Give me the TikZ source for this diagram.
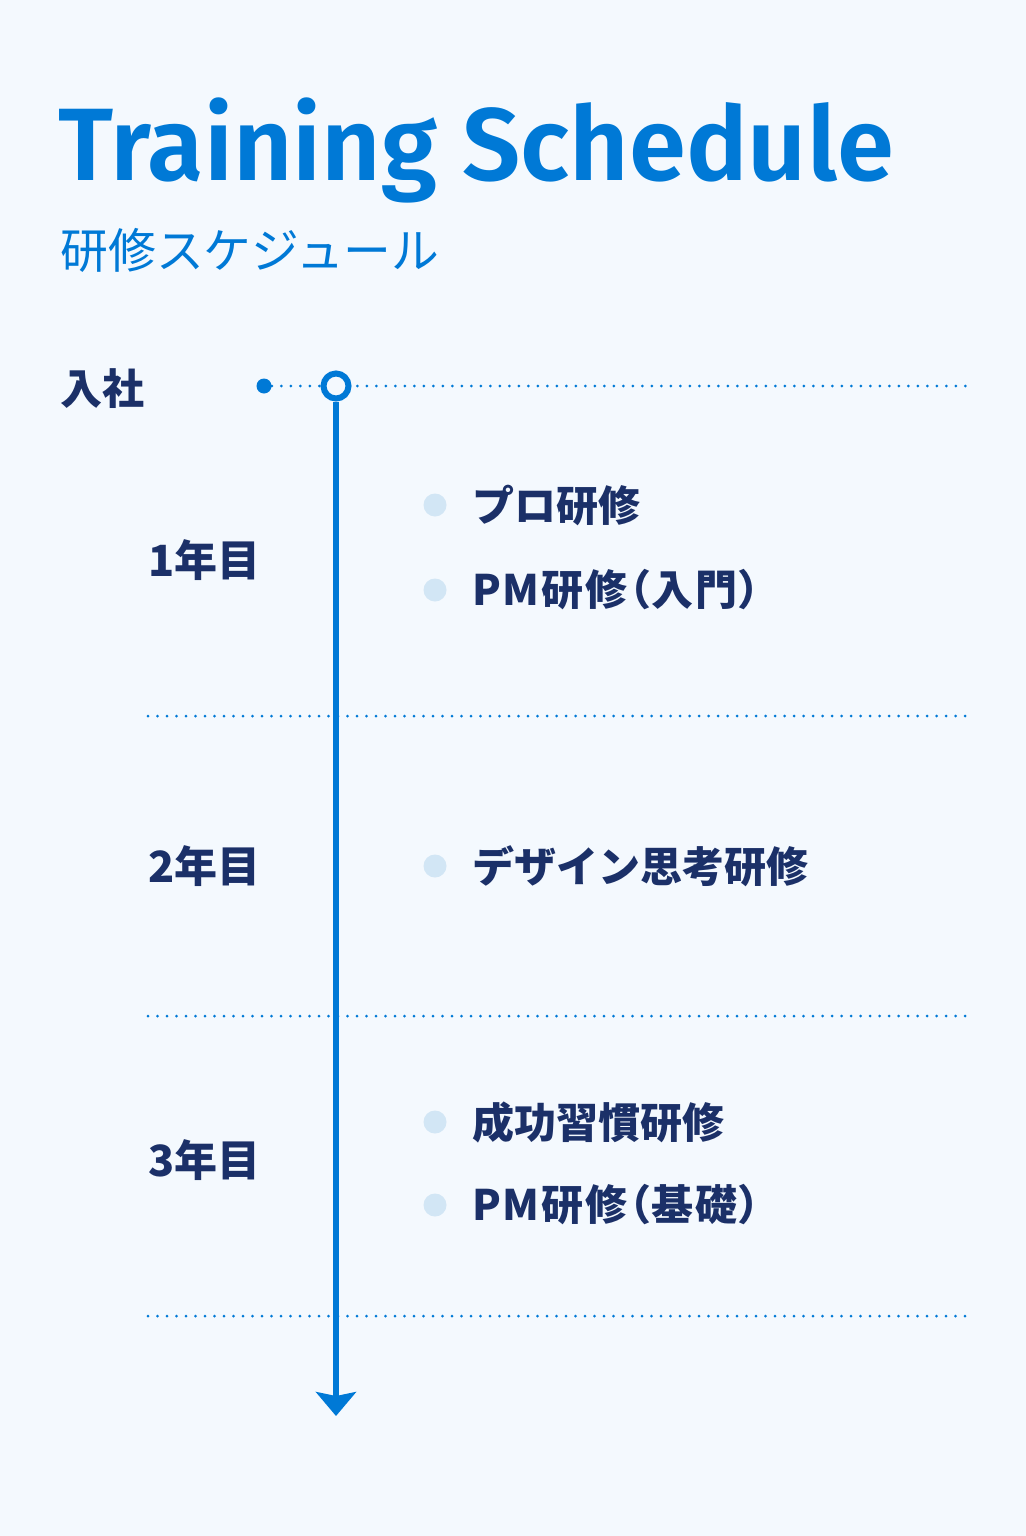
\documentclass[tikz,border=0pt]{standalone}
\usepackage{fontspec}
\usetikzlibrary{arrows.meta,positioning}
\newfontfamily\titlefont{Fira Sans}[UprightFont=* SemiBold]
\newfontfamily\jpfont{Noto Sans CJK JP}
\newfontfamily\jppfont{Noto Sans CJK JP}[RawFeature=+palt, LetterSpace=4]
\definecolor{bgcol}{HTML}{F4F9FE}
\definecolor{mainblue}{HTML}{0079D6}
\definecolor{navy}{HTML}{1B3068}
\definecolor{bulletcol}{HTML}{D2E6F5}
\tikzset{
  guide/.style={mainblue, line width=1.5pt, line cap=round, dash pattern=on 0pt off 4.75pt},
  yearlabel/.style={anchor=west, text=navy, font=\jpfont\bfseries\fontsize{21.5pt}{25pt}\selectfont, inner sep=0pt},
  item/.style={anchor=west, text=navy, font=\jpfont\bfseries\fontsize{21pt}{25pt}\selectfont, inner sep=0pt},
  bulletdot/.style={circle, fill=bulletcol, minimum size=11.5pt, inner sep=0pt},
}
\begin{document}
\begin{tikzpicture}[x=0.5pt, y=-0.5pt]

	\fill[bgcol] (0,0) rectangle (1026,1536);
	\useasboundingbox (0,0) rectangle (1026,1536);

	% heading
	\node[anchor=base west, inner sep=0pt, text=mainblue, font=\titlefont\fontsize{51.5pt}{60pt}\selectfont] (title) at (58,180) {Training Schedule};
	\node[anchor=base west, inner sep=0pt, text=mainblue, font=\jpfont\fontsize{23.9pt}{28pt}\selectfont] (subtitle) at (60,268) {研修スケジュール};

	% start of the timeline
	\node[yearlabel, font=\jpfont\bfseries\fontsize{21pt}{25pt}\selectfont] (join) at (60,389) {入社};
	\node[circle, fill=mainblue, minimum size=7.5pt, inner sep=0pt] (joindot) at (264,386) {};
	\coordinate (joinend) at (968,386);
	\draw[guide] (joindot) -- (joinend);
	\node[circle, draw=mainblue, fill=bgcol, line width=3pt, minimum size=12.5pt, inner sep=0pt] (start) at (336,386) {};
	\coordinate (tip) at (336,1416);
	\draw[mainblue, line width=3pt, -{Stealth[length=12pt, width=20pt, inset=2pt]}] (start) -- (tip);

	% year separators
	\foreach \n/\yy in {a/716, b/1016, c/1316}{
		\coordinate (sep\n w) at (148,\yy);
		\coordinate (sep\n e) at (968,\yy);
		\draw[guide] (sep\n w) -- (sep\n e);
	}

	% years
	\node[yearlabel] (year1) at (148,560) {1年目};
	\node[yearlabel] (year2) at (148,866) {2年目};
	\node[yearlabel] (year3) at (148,1160) {3年目};

	% courses
	\foreach \nm/\yy/\txt in {pro/505/プロ研修, design/866/デザイン思考研修, habit/1122/成功習慣研修}{
		\node[bulletdot] (dot\nm) at (435,\yy) {};
		\node[item] (\nm) at (472,\yy) {\txt};
	}
	\foreach \nm/\yy/\txt in {pmintro/590/PM研修（入門）, pmbasic/1205/PM研修（基礎）}{
		\node[bulletdot] (dot\nm) at (435,\yy) {};
		\node[item, font=\jppfont\bfseries\fontsize{21pt}{25pt}\selectfont] (\nm) at (472,\yy) {\txt};
	}

\end{tikzpicture}
\end{document}
